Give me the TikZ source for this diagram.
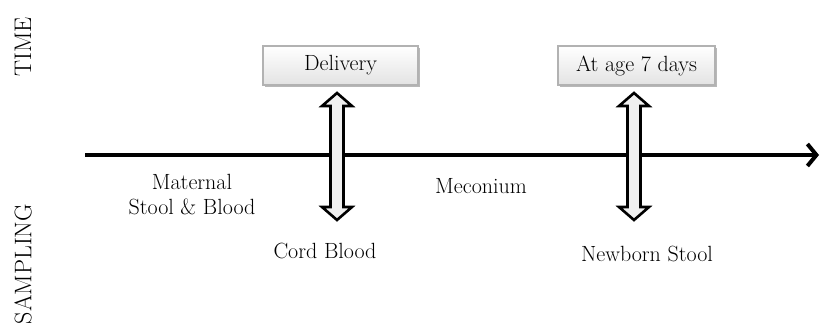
\documentclass[tikz,border=0pt]{standalone}
\usetikzlibrary{arrows.meta,shadows}
\begin{document}
\begin{tikzpicture}[x=1pt,y=-1pt,
  lbl/.style={font=\fontsize{22}{25}\selectfont, align=center, inner sep=0pt},
  side/.style={font=\fontsize{24}{28}\selectfont, rotate=90, inner sep=0pt},
  timebox/.style={draw=gray!60, line width=1.2pt, top color=white, bottom color=gray!22,
     minimum height=39pt, inner sep=0pt, font=\fontsize{22}{25}\selectfont,
     drop shadow={shadow xshift=1.6pt, shadow yshift=-1.6pt, fill=gray!70, opacity=0.8}},
  axis/.style={line width=4pt, -{Straight Barb[length=9pt,width=22pt,line width=4pt]}},
  dblarrow/.style={draw=black, line width=2.6pt, fill=gray!12, line join=miter}
]
\useasboundingbox (0,0) rectangle (821,335);

% side labels
\node[side] (time) at (23,47) {TIME};
\node[side] (sampling) at (23,264) {SAMPLING};

% timeline
\coordinate (tstart) at (85,155);
\coordinate (tend) at (819,155);
\draw[axis] (tstart) -- (tend);

% time boxes
\node[timebox, minimum width=155pt] (delivery) at (340.5,65.5) {Delivery};
\node[timebox, minimum width=157pt] (day7) at (636.5,65.5) {At age 7 days};

% double arrows
\foreach \cx/\nm in {337/arrA, 634/arrB}{
  \draw[dblarrow] (\cx,93) -- (\cx+15,106) -- (\cx+6.5,106) -- (\cx+6.5,207)
     -- (\cx+15,207) -- (\cx,220) -- (\cx-15,207) -- (\cx-6.5,207)
     -- (\cx-6.5,106) -- (\cx-15,106) -- cycle;
}

% sampling labels
\node[lbl] (maternal) at (192,195) {Maternal\\Stool \& Blood};
\node[lbl] (meconium) at (481,186) {Meconium};
\node[lbl] (cord) at (325,251) {Cord Blood};
\node[lbl] (newborn) at (647,254) {Newborn Stool};
\end{tikzpicture}
\end{document}
